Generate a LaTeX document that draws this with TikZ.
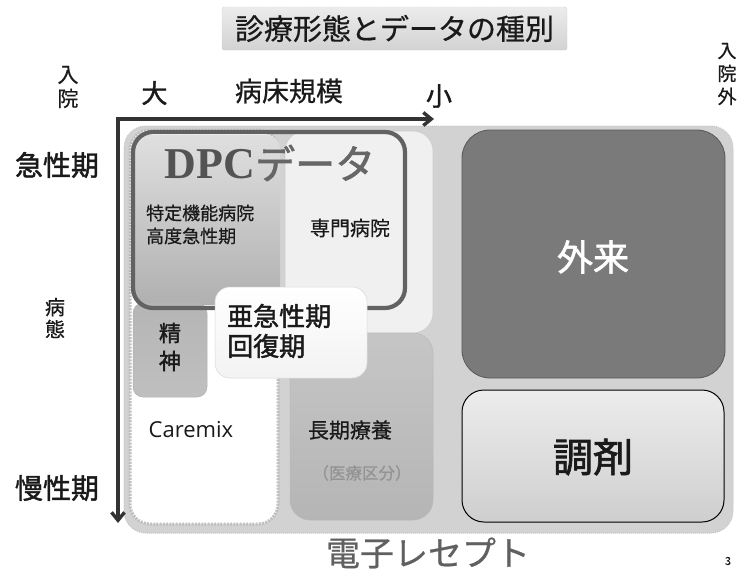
\documentclass[tikz,border=0pt]{standalone}
\usepackage{fontspec}
\setmainfont{Liberation Serif}
\newfontfamily\jp[FakeBold=0.6]{Noto Sans CJK JP}
\newfontfamily\jpb[FakeBold=1.6]{Noto Sans CJK JP}
\newfontfamily\latinsans{Open Sans}
\newfontfamily\dpcfont{Liberation Serif}
\usetikzlibrary{arrows.meta,shadings}
\definecolor{bgfill}{HTML}{D2D2D2}
\definecolor{axisgray}{HTML}{333333}
\definecolor{dpcline}{HTML}{626262}
\definecolor{gairaifill}{HTML}{7A7A7A}
\definecolor{textdark}{HTML}{1A1A1A}
\begin{document}
\begin{tikzpicture}[x=1pt,y=-1pt,
  box/.style={rectangle, rounded corners=#1, inner sep=0pt},
  lbl/.style={inner sep=0pt, text=textdark, font=\jp},
  axisline/.style={draw=axisgray, line width=3.4pt, {Straight Barb[length=8pt,width=13pt]}-{Straight Barb[length=8pt,width=13pt]}},
]
\useasboundingbox (0,0) rectangle (737,576);
\fill[white] (0,0) rectangle (737,576);

% title
\node[box=2pt, top color=gray!15, bottom color=gray!35, draw=gray!60, densely dotted, minimum width=345pt, minimum height=43pt] (titlebox) at (394.5,28.5) {};
\node[lbl, font=\jp\fontsize{29}{29}\selectfont] (title) at (titlebox.center) {診療形態とデータの種別};

% background
\node[box=22pt, fill=bgfill, draw=gray!45, densely dotted, line width=1pt, minimum width=609pt, minimum height=407pt] (bg) at (428.5,329.5) {};

% Caremix column
\node[box=20pt, fill=white, draw=gray!50, line width=3pt, dash pattern=on 2pt off 1.2pt, minimum width=148pt, minimum height=394pt] (caremixbox) at (204,327) {};
% senmon
\node[box=20pt, fill=gray!12, draw=gray!40, line width=0.6pt, minimum width=148pt, minimum height=202pt] (senmonbox) at (359,232) {};
% choki
\node[box=20pt, top color=gray!45, bottom color=gray!58, draw=gray!55, line width=0.5pt, minimum width=143pt, minimum height=187pt] (chokibox) at (361.5,426.5) {};
% tokutei
\node[box=14pt, top color=gray!25, bottom color=gray!62, minimum width=145pt, minimum height=170pt] (tokuteibox) at (207.5,220) {};
% seishin
\node[box=10pt, top color=gray!58, bottom color=gray!50, draw=gray!60, line width=0.5pt, minimum width=74pt, minimum height=94pt] (seishinbox) at (170,350) {};
% DPC border
\node[box=20pt, draw=dpcline, line width=4.2pt, minimum width=272pt, minimum height=176pt] (dpcbox) at (269,220) {};
% akyusei
\node[box=15pt, top color=white, bottom color=gray!10, draw=gray!30, line width=0.5pt, minimum width=152pt, minimum height=91pt] (akyuseibox) at (291,332.5) {};
% gairai
\node[box=28pt, fill=gairaifill, draw=gray!70!black, line width=0.8pt, minimum width=263pt, minimum height=248pt] (gairaibox) at (593.5,254) {};
% chozai
\node[box=22pt, top color=gray!15, bottom color=gray!38, draw=black, line width=1pt, minimum width=262pt, minimum height=132pt] (chozaibox) at (593,456) {};

% axes
\coordinate (corner) at (118,119);
\coordinate (hend) at (434,119);
\coordinate (vend) at (118,523);
\draw[axisline] (hend) -- (corner) -- (vend);

% axis labels
\node[lbl, font=\jp\fontsize{21}{24}\selectfont, align=center] (nyuin) at (68,87) {入\\院};
\node[lbl, font=\jpb\fontsize{26}{26}\selectfont] (dai) at (154.5,93) {大};
\node[lbl, font=\jp\fontsize{27}{27}\selectfont] (byosho) at (289,91) {病床規模};
\node[lbl, font=\jpb\fontsize{26}{26}\selectfont] (sho) at (439,96) {小};
\node[lbl, font=\jp\fontsize{19}{23}\selectfont, align=center] (nyuingai) at (727,74) {入\\院\\外};
\node[lbl, font=\jpb\fontsize{28}{28}\selectfont] (kyusei) at (57,165) {急性期};
\node[lbl, font=\jp\fontsize{20}{22}\selectfont, align=center] (byotai) at (55,318) {病\\態};
\node[lbl, font=\jpb\fontsize{28}{28}\selectfont] (mansei) at (57,488) {慢性期};

% box labels
\node[inner sep=0pt, text=gray!65!black] (dpc) at (270,163) {{\dpcfont\bfseries\fontsize{44}{44}\selectfont DPC}{\jpb\fontsize{40}{40}\selectfont\color{gray!80!black}データ}};
\node[lbl, font=\jp\fontsize{18}{23}\selectfont, align=left, anchor=west] (tokutei) at (146,224.5) {特定機能病院\\高度急性期};
\node[lbl, font=\jp\fontsize{20}{20}\selectfont] (senmon) at (350,228) {専門病院};
\node[lbl, font=\jpb\fontsize{22}{28}\selectfont, align=center] (seishin) at (170,347) {精\\神};
\node[lbl, font=\jpb\fontsize{26}{30}\selectfont, align=left, anchor=west] (akyusei) at (227,331) {亜急性期\\回復期};
\node[lbl, font=\latinsans\fontsize{22}{22}\selectfont] (caremix) at (191,430) {Caremix};
\node[lbl, font=\jp\fontsize{21}{21}\selectfont] (choki) at (350,430) {長期療養};
\node[lbl, font=\jp\fontsize{16.5}{16.5}\selectfont, text=gray!85] (iryo) at (362,473) {（医療区分）};
\node[lbl, font=\jpb\fontsize{36}{36}\selectfont, text=white] (gairai) at (593,257) {外来};
\node[lbl, font=\jpb\fontsize{40}{40}\selectfont] (chozai) at (593,457) {調剤};
\node[lbl, font=\jp\fontsize{34}{34}\selectfont, text=gray!75!black] (receipt) at (428,553) {電子レセプト};
\node[lbl, font=\jp\fontsize{11}{11}\selectfont] (pagenum) at (728,561) {3};
\end{tikzpicture}
\end{document}
